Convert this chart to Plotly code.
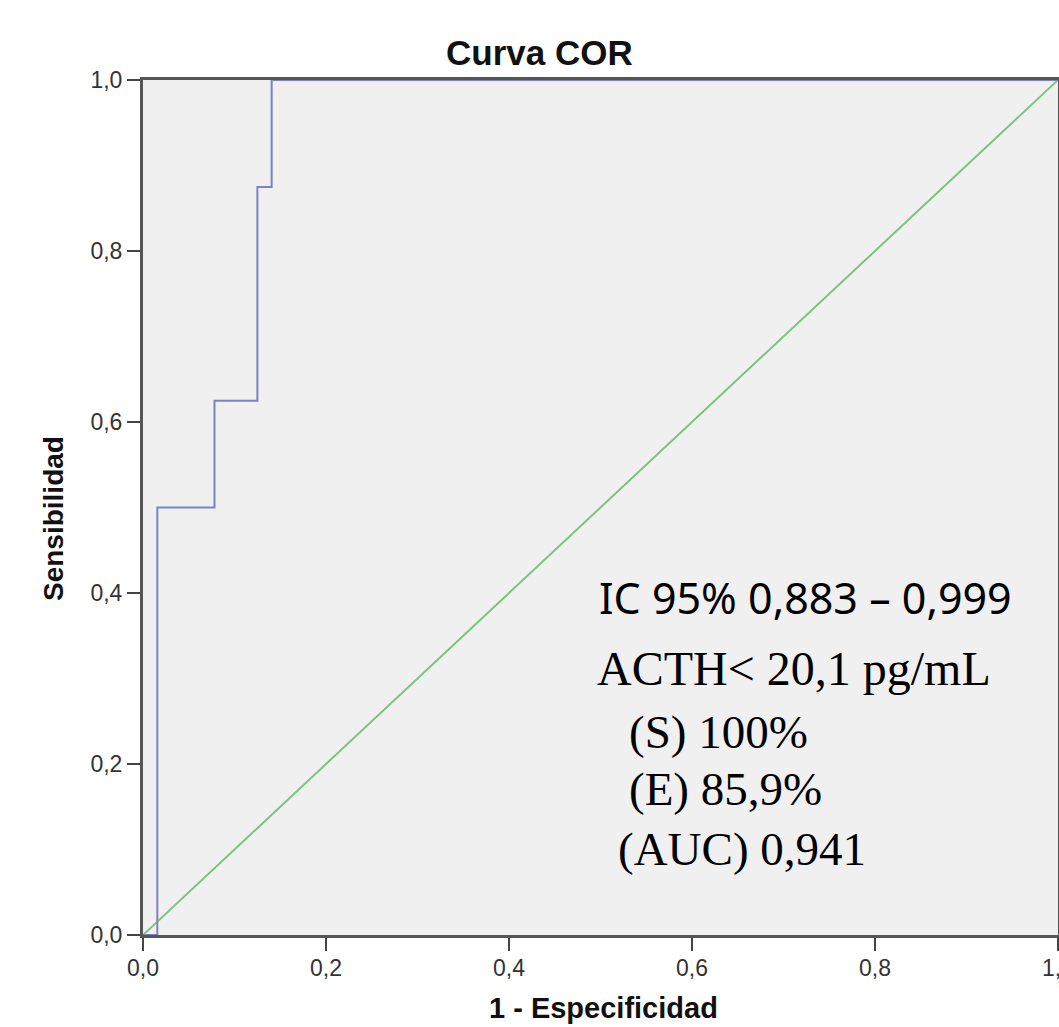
import plotly.graph_objects as go

# ROC curve (1 - especificidad, sensibilidad)
roc_fpr = [0.0, 1/64, 1/64, 5/64, 5/64, 8/64, 8/64, 9/64, 9/64, 1.0]
roc_tpr = [0.0, 0.0, 0.5, 0.5, 0.625, 0.625, 0.875, 0.875, 1.0, 1.0]
ref_x = [0.0, 1.0]
ref_y = [0.0, 1.0]

tick_vals = [0.0, 0.2, 0.4, 0.6, 0.8, 1.0]
tick_text = ["0,0", "0,2", "0,4", "0,6", "0,8", "1,0"]

W, H = 1059, 1027
L, R, T, B = 143, 1, 80, 92
pw = W - L - R
ph = H - T - B

def px(x):
    return (x - L) / pw

def py(y):
    return (H - B - y) / ph

fig = go.Figure()
fig.add_trace(go.Scatter(x=ref_x, y=ref_y, mode="lines",
                         line=dict(color="#7cc47c", width=2), hoverinfo="skip"))
fig.add_trace(go.Scatter(x=roc_fpr, y=roc_tpr, mode="lines",
                         line=dict(color="#7a84c2", width=2), hoverinfo="skip"))

axis_common = dict(range=[0, 1], tickvals=tick_vals, ticktext=tick_text,
                   showgrid=False, zeroline=False, showline=True, linewidth=3,
                   linecolor="#555555", mirror=True, ticks="outside", ticklen=13,
                   tickwidth=2, tickcolor="#444444", automargin=False,
                   tickfont=dict(family="Liberation Sans", size=23, color="#333333"))
fig.update_xaxes(**axis_common, ticklabeloverflow="allow", ticklabelstandoff=-3)
fig.update_yaxes(**axis_common)

annos = []
# titles
annos.append(dict(text="<b>Curva COR</b>", xref="paper", yref="paper", x=px(539), y=py(52),
                  xanchor="center", yanchor="middle", showarrow=False,
                  font=dict(family="Liberation Sans", size=35, color="#111111")))
annos.append(dict(text="<b>Sensibilidad</b>", xref="paper", yref="paper", x=px(53), y=py(519),
                  xanchor="center", yanchor="middle", showarrow=False, textangle=-90,
                  font=dict(family="Liberation Sans", size=28, color="#111111")))
annos.append(dict(text="<b>1 - Especificidad</b>", xref="paper", yref="paper", x=px(603), y=py(1008),
                  xanchor="center", yanchor="middle", showarrow=False,
                  font=dict(family="Liberation Sans", size=29, color="#111111")))

# in-plot text
texts = [
    ("IC 95% 0,883 – 0,999", 597, 597, "Noto Sans", 43),
    ("ACTH< 20,1 pg/mL", 595, 668, "Liberation Serif", 48),
    ("(S) 100%", 627, 732, "Liberation Serif", 47),
    ("(E) 85,9%", 627, 789, "Liberation Serif", 47),
    ("(AUC) 0,941", 616, 849, "Liberation Serif", 47),
]
for t, x, y, fam, sz in texts:
    annos.append(dict(text=t, xref="x", yref="y", x=(x - L) / pw, y=(H - B - y) / ph,
                      xanchor="left", yanchor="middle", showarrow=False,
                      font=dict(family=fam, size=sz, color="#000000")))

fig.update_layout(width=W, height=H, margin=dict(l=L, r=R, t=T, b=B, autoexpand=False),
                  paper_bgcolor="white", plot_bgcolor="#f0f0f0",
                  showlegend=False, annotations=annos)

fig.write_html("out.html")
